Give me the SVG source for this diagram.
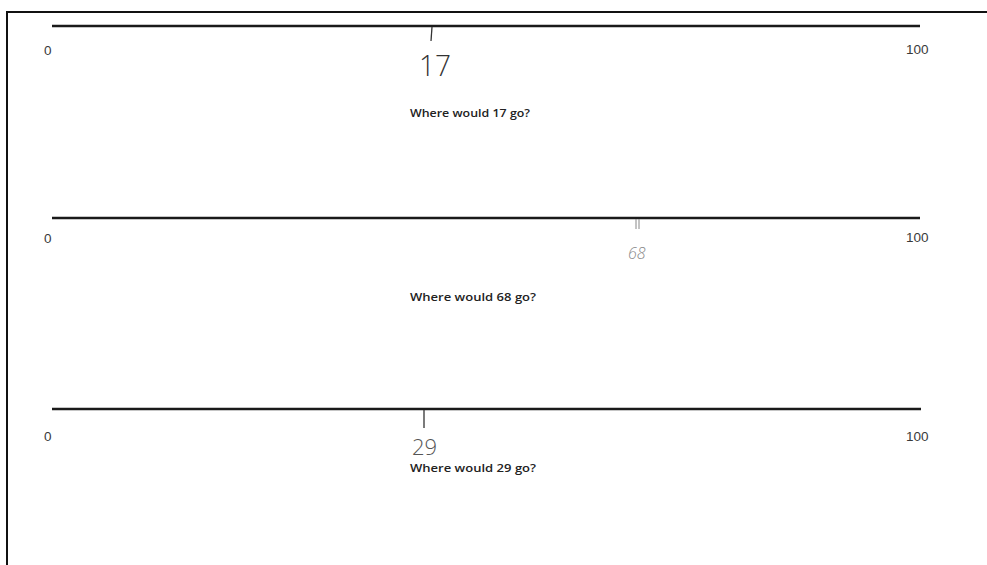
<svg xmlns="http://www.w3.org/2000/svg" width="987" height="565" viewBox="0 0 987 565">
<style>
.axis{stroke:#1a1a1a;stroke-width:2.5;fill:none}
.lbl{font-family:"Liberation Sans",Arial,sans-serif;font-size:13.5px;fill:#3a3a3a}
.q{font-family:"Open Sans","Liberation Sans",sans-serif;font-size:11.5px;fill:#222;font-weight:600}
.tick{stroke:#333;stroke-width:1.3;fill:none}
</style>
<rect x="0" y="0" width="987" height="565" fill="#fff"/>
<path d="M7,565 V12 H987" stroke="#111" stroke-width="2" fill="none"/>
<g id="line1">
<line class="axis" x1="52" y1="26" x2="920" y2="26"/>
<text class="lbl" x="44" y="55">0</text>
<text class="lbl" x="906" y="54">100</text>
<text class="q" x="410" y="117" textLength="120" lengthAdjust="spacingAndGlyphs">Where would 17 go?</text>
</g>
<g id="mark17">
<path class="tick" d="M432,27 L431,41"/>
<text x="419" y="76" font-family="Open Sans,sans-serif" font-weight="300" font-size="30" fill="#333" textLength="32" lengthAdjust="spacingAndGlyphs">17</text>
</g>
<g id="line2">
<line class="axis" x1="52" y1="218" x2="920" y2="218"/>
<text class="lbl" x="44" y="243">0</text>
<text class="lbl" x="906" y="242">100</text>
<text class="q" x="410" y="301" textLength="126" lengthAdjust="spacingAndGlyphs">Where would 68 go?</text>
</g>
<g id="mark68">
<path d="M636,219 L636,229 M639,219 L639,229" stroke="#888" stroke-width="1" fill="none"/>
<text x="628" y="259" font-family="Open Sans,sans-serif" font-weight="300" font-size="16" font-style="italic" fill="#888">68</text>
</g>
<g id="line3">
<line class="axis" x1="52" y1="409" x2="921" y2="409"/>
<text class="lbl" x="44" y="441">0</text>
<text class="lbl" x="906" y="441">100</text>
<text class="q" x="410" y="472" textLength="126" lengthAdjust="spacingAndGlyphs">Where would 29 go?</text>
</g>
<g id="mark29">
<path class="tick" d="M424,410 L424,428" stroke="#555"/>
<text x="412" y="455" font-family="Open Sans,sans-serif" font-weight="300" font-size="22" fill="#555">29</text>
</g>
</svg>
